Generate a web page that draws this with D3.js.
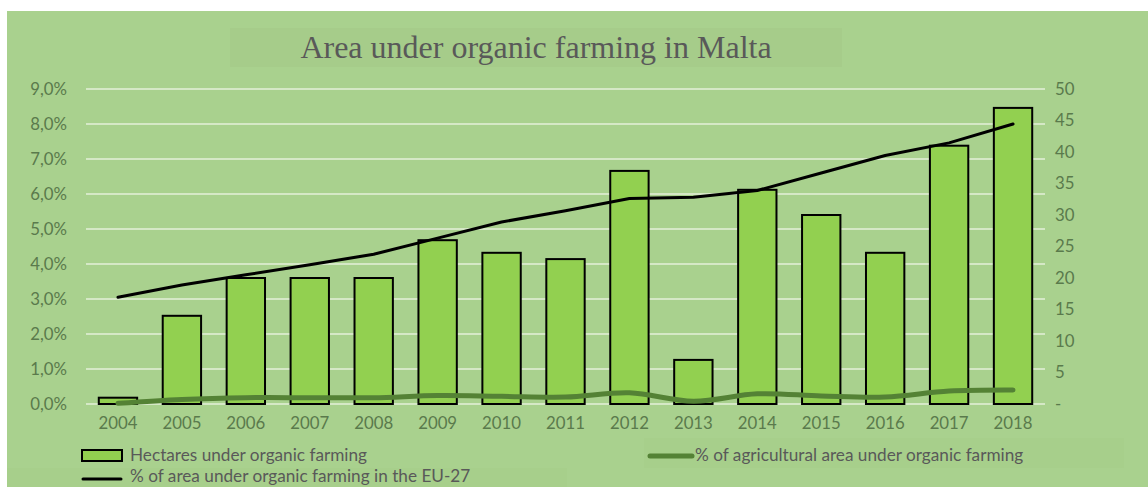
<!DOCTYPE html>
<html>
<head>
<meta charset="utf-8">
<script src="https://cdn.jsdelivr.net/npm/d3@7"></script>
<style>
  html, body { margin: 0; padding: 0; background: #ffffff; }
  svg { display: block; }
</style>
</head>
<body>
<script>
const years = ["2004","2005","2006","2007","2008","2009","2010","2011","2012","2013","2014","2015","2016","2017","2018"];
const hectares = [1, 14, 20, 20, 20, 26, 24, 23, 37, 7, 34, 30, 24, 41, 47];
const euShare = [3.05, 3.4, 3.69, 3.98, 4.28, 4.74, 5.2, 5.52, 5.87, 5.91, 6.1, 6.6, 7.1, 7.46, 8.0];
const maltaShare = [0.02, 0.13, 0.18, 0.18, 0.18, 0.24, 0.22, 0.2, 0.32, 0.08, 0.29, 0.23, 0.2, 0.37, 0.4];
const leftTicks = [0, 1, 2, 3, 4, 5, 6, 7, 8, 9];
const rightTicks = [0, 5, 10, 15, 20, 25, 30, 35, 40, 45, 50];
const title = "Area under organic farming in Malta";
const legendLabels = ["Hectares under organic farming", "% of agricultural area under organic farming", "% of area under organic farming in the EU-27"];

const W = 1148, H = 487;
const plot = { left: 86, right: 1045, top: 89, bottom: 404 };
const textColor = "#5a7a4c";
const font = "Lato, 'Open Sans', sans-serif";
const tickSize = 16.8;

const svg = d3.select("body").append("svg").attr("width", W).attr("height", H);

// background panel
svg.append("rect").attr("x", 7).attr("y", 11).attr("width", W - 7).attr("height", H - 11).attr("fill", "#a9d18e");

// title box
svg.append("rect").attr("x", 230).attr("y", 28).attr("width", 612).attr("height", 39).attr("fill", "#a6cc8a");
svg.append("text").attr("x", 536).attr("y", 58).attr("text-anchor", "middle")
  .attr("font-family", "'Liberation Serif', 'Times New Roman', serif").attr("font-size", 32)
  .attr("fill", "#595959").text(title);

const x = d3.scaleBand().domain(years).range([plot.left, plot.right]).paddingInner(0.4).paddingOuter(0.2);
const yL = d3.scaleLinear().domain([0, 9]).range([plot.bottom, plot.top]);
const yR = d3.scaleLinear().domain([0, 50]).range([plot.bottom, plot.top]);

// gridlines
svg.append("g").selectAll("line").data(leftTicks).join("line")
  .attr("x1", plot.left).attr("x2", plot.right)
  .attr("y1", d => yL(d)).attr("y2", d => yL(d))
  .attr("stroke", "#d5e8c6").attr("stroke-width", 2);

// left axis
const axL = d3.axisLeft(yL).tickValues(leftTicks).tickSize(0).tickPadding(0)
  .tickFormat(d => d3.format(".1f")(d).replace(".", ",") + "%");
const gL = svg.append("g").attr("transform", `translate(67,0)`).call(axL);
gL.select(".domain").remove();
gL.selectAll("text").attr("font-family", font).attr("font-size", tickSize).attr("fill", textColor);

// right axis
const axR = d3.axisRight(yR).tickValues(rightTicks).tickSize(0).tickPadding(0)
  .tickFormat(d => d === 0 ? "-" : String(d));
const gR = svg.append("g").attr("transform", `translate(1055,0)`).call(axR);
gR.select(".domain").remove();
gR.selectAll("text").attr("font-family", font).attr("font-size", tickSize).attr("fill", textColor);

// x axis labels
const axX = d3.axisBottom(x).tickSize(0).tickPadding(0);
const gX = svg.append("g").attr("transform", `translate(0,417)`).call(axX);
gX.select(".domain").remove();
gX.selectAll("text").attr("font-family", font).attr("font-size", tickSize).attr("fill", textColor);

// bars
svg.append("g").selectAll("rect").data(years).join("rect")
  .attr("x", d => x(d)).attr("width", x.bandwidth())
  .attr("y", (d, i) => yR(hectares[i])).attr("height", (d, i) => yR(0) - yR(hectares[i]))
  .attr("fill", "#92d050").attr("stroke", "#000").attr("stroke-width", 2);

// Malta share line (smoothed)
const lineMalta = d3.line().x((d, i) => x(years[i]) + x.bandwidth() / 2).y(d => yL(d)).curve(d3.curveCatmullRom.alpha(0.5));
svg.append("path").datum(maltaShare).attr("d", lineMalta)
  .attr("fill", "none").attr("stroke", "#548235").attr("stroke-width", 5).attr("stroke-linecap", "round");

// EU line
const lineEU = d3.line().x((d, i) => x(years[i]) + x.bandwidth() / 2).y(d => yL(d));
svg.append("path").datum(euShare).attr("d", lineEU)
  .attr("fill", "none").attr("stroke", "#000").attr("stroke-width", 3).attr("stroke-linecap", "round").attr("stroke-linejoin", "round");

// legend
const lg = svg.append("g");
lg.append("rect").attr("x", 644).attr("y", 438).attr("width", 480).attr("height", 30).attr("fill", "#a7cf8b");
lg.append("rect").attr("x", 7).attr("y", 468).attr("width", 560).attr("height", 19).attr("fill", "#a7cf8b");

lg.append("rect").attr("x", 82).attr("y", 450).attr("width", 40).attr("height", 11)
  .attr("fill", "#92d050").attr("stroke", "#000").attr("stroke-width", 2);
lg.append("text").attr("x", 130).attr("y", 455).attr("dy", "0.35em").attr("font-family", font)
  .attr("font-size", 17.2).attr("fill", "#595959").text(legendLabels[0]);

lg.append("line").attr("x1", 650).attr("x2", 692).attr("y1", 456).attr("y2", 456)
  .attr("stroke", "#548235").attr("stroke-width", 5).attr("stroke-linecap", "round");
lg.append("text").attr("x", 695).attr("y", 455).attr("dy", "0.35em").attr("font-family", font)
  .attr("font-size", 17.2).attr("fill", "#595959").text(legendLabels[1]);

lg.append("line").attr("x1", 83).attr("x2", 121).attr("y1", 479).attr("y2", 479)
  .attr("stroke", "#000").attr("stroke-width", 3).attr("stroke-linecap", "round");
lg.append("text").attr("x", 130).attr("y", 476).attr("dy", "0.35em").attr("font-family", font)
  .attr("font-size", 17.2).attr("fill", "#595959").text(legendLabels[2]);
</script>
</body>
</html>
